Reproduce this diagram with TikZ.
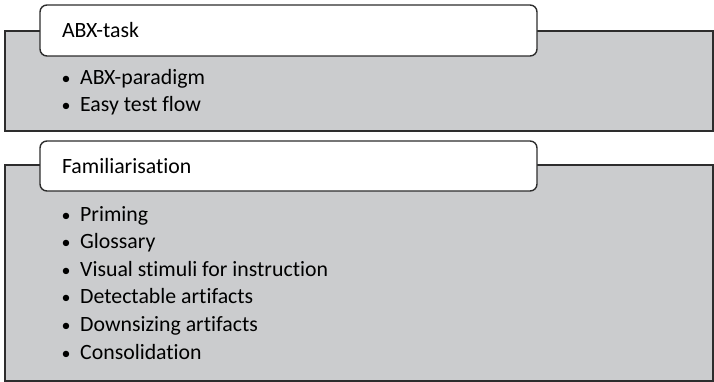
\documentclass[tikz,border=0pt]{standalone}
\usepackage{fontspec}
\setmainfont{Carlito}[Ligatures=NoCommon]
\usetikzlibrary{positioning}
\definecolor{panelgray}{RGB}{203,204,206}
\definecolor{edgegray}{RGB}{45,45,45}
\tikzset{
  panel/.style={draw=edgegray, fill=panelgray, line width=1.4pt, anchor=north west,
    inner sep=0pt, outer sep=0pt, minimum width=708pt},
  tabbox/.style={draw=edgegray, fill=white, line width=1.4pt, rounded corners=7pt,
    anchor=north west, outer sep=0pt, inner xsep=22pt, text width=453pt, align=left,
    minimum height=51pt, font=\fontsize{21.8}{26}\selectfont},
  item/.style={anchor=base west, inner sep=0pt, font=\fontsize{21.8}{26}\selectfont},
  dot/.style={anchor=base west, inner sep=0pt, font=\fontsize{18}{22}\selectfont}
}

\begin{document}
\begin{tikzpicture}[x=1pt,y=-1pt]
  \useasboundingbox (0,0) rectangle (714,382);
  % ABX-task block
  \node[panel, minimum height=100pt] (abx) at (5,31) {};
  \node[tabbox] (abxhead) at (40,5) {ABX-task};
  \foreach \txt [count=\i] in {ABX-paradigm, Easy test flow}{
    \node[dot] (abxdot\i) at (61.5,58+27*\i) {\textbullet};
    \node[item] (abxitem\i) at (80,58+27*\i) {\txt};
  }
  % Familiarisation block
  \node[panel, minimum height=216pt] (fam) at (5,165) {};
  \node[tabbox, minimum height=50pt] (famhead) at (40,141) {Familiarisation};
  \foreach \txt [count=\i] in {Priming, Glossary, Visual stimuli for instruction,
      Detectable artifacts, Downsizing artifacts, Consolidation}{
    \node[dot] (famdot\i) at (61.5,193.4+27.6*\i) {\textbullet};
    \node[item] (famitem\i) at (80,193.4+27.6*\i) {\txt};
  }
\end{tikzpicture}
\end{document}
